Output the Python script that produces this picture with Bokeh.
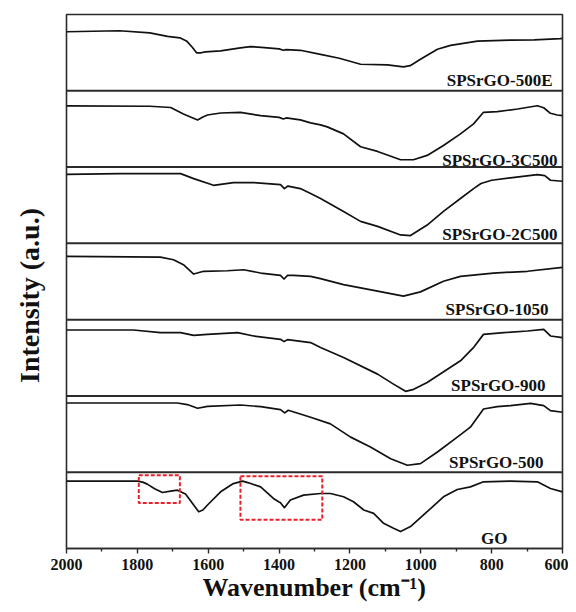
import numpy as np
from bokeh.plotting import figure
from bokeh.models import Range1d, FixedTicker, LinearAxis
from bokeh.core.properties import value
from bokeh.embed import file_html
from bokeh.resources import INLINE

# ---------------- data (normalised intensity, 0 = panel bottom, 1 = panel top) ----------------
# panels from bottom to top
sample_names = ["GO", "SPSrGO-500", "SPSrGO-900", "SPSrGO-1050",
                "SPSrGO-2C500", "SPSrGO-3C500", "SPSrGO-500E"]

wn_go = [2000, 1800, 1785, 1772, 1750, 1729, 1706, 1687, 1664, 1641, 1627, 1615, 1602,
         1565, 1529, 1503, 1486, 1452, 1416, 1400, 1396, 1385, 1368, 1331, 1283, 1255,
         1218, 1190, 1161, 1133, 1105, 1077, 1057, 1029, 982, 936, 897, 860, 823, 747,
         671, 634, 600]
int_go = [0.883, 0.883, 0.870, 0.844, 0.780, 0.734, 0.752, 0.765, 0.713, 0.570, 0.482,
          0.505, 0.570, 0.743, 0.851, 0.883, 0.861, 0.808, 0.656, 0.610, 0.600, 0.535,
          0.635, 0.700, 0.721, 0.721, 0.678, 0.613, 0.505, 0.460, 0.330, 0.265, 0.222,
          0.287, 0.482, 0.678, 0.773, 0.808, 0.874, 0.883, 0.874, 0.787, 0.743]

wn_500 = [2000, 1687, 1659, 1630, 1602, 1509, 1452, 1396, 1384, 1374, 1311, 1255, 1198,
          1142, 1085, 1038, 1001, 953, 897, 860, 823, 784, 747, 690, 653, 634, 600]
int_500 = [0.907, 0.907, 0.887, 0.838, 0.864, 0.881, 0.860, 0.821, 0.777, 0.812, 0.721,
           0.634, 0.460, 0.330, 0.177, 0.091, 0.112, 0.265, 0.460, 0.591, 0.829, 0.860,
           0.873, 0.903, 0.873, 0.808, 0.786]

wn_900 = [2000, 1811, 1735, 1678, 1641, 1602, 1517, 1472, 1396, 1386, 1376, 1311, 1283,
          1218, 1122, 1077, 1043, 1020, 982, 888, 850, 823, 766, 699, 653, 634, 600]
int_900 = [0.864, 0.864, 0.829, 0.829, 0.794, 0.807, 0.829, 0.786, 0.742, 0.712, 0.738,
           0.699, 0.634, 0.503, 0.286, 0.155, 0.060, 0.086, 0.177, 0.460, 0.640, 0.807,
           0.829, 0.851, 0.872, 0.786, 0.764]

wn_1050 = [2000, 1735, 1698, 1670, 1641, 1613, 1546, 1500, 1452, 1396, 1386, 1376, 1359,
           1311, 1283, 1218, 1122, 1049, 1001, 936, 888, 795, 699, 600]
int_1050 = [0.829, 0.820, 0.785, 0.720, 0.598, 0.634, 0.641, 0.654, 0.611, 0.581, 0.533,
            0.581, 0.581, 0.568, 0.537, 0.459, 0.373, 0.308, 0.364, 0.503, 0.568, 0.611,
            0.634, 0.686]

wn_2c500 = [2000, 1848, 1678, 1641, 1585, 1529, 1472, 1396, 1385, 1375, 1340, 1311, 1283,
            1218, 1170, 1122, 1057, 1029, 982, 936, 888, 851, 830, 800, 747, 671, 650,
            634, 600]
int_2c500 = [0.905, 0.914, 0.914, 0.849, 0.761, 0.797, 0.797, 0.771, 0.718, 0.751, 0.718,
             0.653, 0.588, 0.419, 0.288, 0.223, 0.110, 0.102, 0.240, 0.419, 0.588, 0.718,
             0.784, 0.827, 0.858, 0.901, 0.888, 0.827, 0.814]

wn_3c500 = [2000, 1765, 1706, 1670, 1630, 1615, 1602, 1565, 1509, 1452, 1400, 1388, 1380,
            1340, 1311, 1283, 1264, 1218, 1170, 1122, 1057, 1021, 982, 936, 888, 851, 823,
            784, 727, 671, 653, 634, 615, 600]
int_3c500 = [0.801, 0.797, 0.781, 0.696, 0.618, 0.657, 0.683, 0.709, 0.716, 0.674, 0.651,
             0.631, 0.644, 0.618, 0.579, 0.553, 0.527, 0.435, 0.266, 0.205, 0.096, 0.096,
             0.153, 0.283, 0.435, 0.566, 0.718, 0.726, 0.761, 0.804, 0.778, 0.705, 0.683,
             0.674]

wn_500e = [2000, 1850, 1765, 1715, 1680, 1660, 1645, 1633, 1620, 1608, 1565, 1509, 1481,
           1450, 1400, 1388, 1380, 1340, 1283, 1230, 1170, 1094, 1049, 1030, 1001, 953,
           916, 840, 747, 680, 606, 600]
int_500e = [0.774, 0.787, 0.759, 0.713, 0.694, 0.648, 0.570, 0.498, 0.498, 0.511, 0.524,
            0.563, 0.579, 0.570, 0.550, 0.531, 0.540, 0.531, 0.478, 0.426, 0.348, 0.339,
            0.313, 0.329, 0.413, 0.544, 0.596, 0.652, 0.665, 0.668, 0.683, 0.687]

spectra_wn = [wn_go, wn_500, wn_900, wn_1050, wn_2c500, wn_3c500, wn_500e]
spectra_int = [int_go, int_500, int_900, int_1050, int_2c500, int_3c500, int_500e]

# highlighted regions in the GO spectrum (wavenumber start, end; normalised bottom, top)
go_box_wn_start = [1796, 1509]
go_box_wn_end = [1680, 1278]
go_box_low = [0.596, 0.378]
go_box_high = [0.960, 0.947]

x_ticks = [600, 800, 1000, 1200, 1400, 1600, 1800, 2000]
x_minor_ticks = [700, 900, 1100, 1300, 1500, 1700, 1900]

x_title = "Wavenumber (cm\u207b\u00b9)"
y_title = "Intensity (a.u.)"

# ---------------- layout ----------------
FONT = "Liberation Serif"
W, H = 568, 604
FL, FR, FT, FB = 66, 562, 14, 548          # frame edges in canvas pixels
X0, X1 = 2000, 600
N = len(sample_names)
PX_PER_X = (FR - FL) / (X0 - X1)
PX_PER_Y = (FB - FT) / N


def x_at(px):
    return X0 - (px - FL) / PX_PER_X


p = figure(width=W, height=H, output_backend="svg", toolbar_location=None,
           x_range=Range1d(X0, X1), y_range=Range1d(0, N),
           y_axis_location=None,
           min_border_left=FL, min_border_right=W - FR,
           min_border_top=FT, min_border_bottom=H - FB)
p.grid.visible = False
p.outline_line_color = "#2b2b2b"
p.outline_line_width = 1.6
p.background_fill_color = "white"
p.border_fill_color = "white"

ax = p.xaxis[0]
ax.ticker = FixedTicker(ticks=x_ticks, minor_ticks=x_minor_ticks)
ax.axis_line_color = "#2b2b2b"
ax.axis_line_width = 1.6
ax.major_tick_in = 0
ax.major_tick_out = 5
ax.minor_tick_in = 0
ax.minor_tick_out = 3
ax.major_tick_line_width = 1.4
ax.minor_tick_line_width = 1.4
ax.major_tick_line_color = "#2b2b2b"
ax.minor_tick_line_color = "#2b2b2b"
ax.major_label_text_font = FONT
ax.major_label_text_font_style = "bold"
ax.major_label_text_font_size = "16px"
ax.major_label_text_color = "#111111"
ax.major_label_standoff = 5
ax.axis_label = x_title
ax.axis_label_text_font = FONT
ax.axis_label_text_font_style = "bold"
ax.axis_label_text_font_size = "26px"
ax.axis_label_text_color = "#111111"
ax.axis_label_standoff = 0

yax = LinearAxis(ticker=FixedTicker(ticks=[]), axis_line_color=None,
                 major_tick_line_color=None, minor_tick_line_color=None,
                 major_label_text_font_size="0px")
yax.axis_label = y_title + "\u00a0" * 4
yax.axis_label_text_font = FONT
yax.axis_label_text_font_style = "bold"
yax.axis_label_text_font_size = "28px"
yax.axis_label_text_color = "#111111"
yax.axis_label_standoff = 22
p.add_layout(yax, "left")

# panel separators
seps = list(range(1, N))
p.segment(x0=[X0] * len(seps), x1=[X1] * len(seps), y0=seps, y1=seps,
          line_color="#2b2b2b", line_width=2)

# spectra
for i, (wn, iv) in enumerate(zip(spectra_wn, spectra_int)):
    p.line(wn, [i + v for v in iv], line_color="#111111", line_width=1.7,
           line_join="round")

# red dashed boxes on GO
p.quad(left=go_box_wn_start, right=go_box_wn_end, bottom=go_box_low, top=go_box_high,
       fill_color=None, line_color="#e8202a", line_width=2, line_dash="4 2")

# sample labels (right edge in canvas px, baseline height above panel bottom in px)
label_right_px = [507, 543, 545, 548, 557, 557, 552]
label_lift_px = [9.7, 9.6, 10.3, 10.2, 8.4, 6.9, 10.0]
p.text(x=[x_at(v) for v in label_right_px],
       y=[i + label_lift_px[i] / PX_PER_Y for i in range(N)],
       text=sample_names, text_align="right", text_baseline="alphabetic",
       text_font=value(FONT), text_font_style="bold", text_font_size="17px",
       text_color="#111111")

open("out.html", "w").write(file_html(p, INLINE))
